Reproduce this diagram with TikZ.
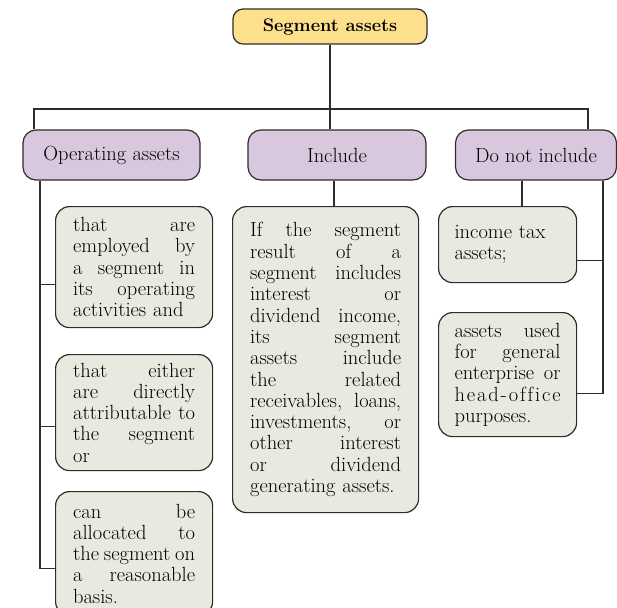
\documentclass[tikz,border=0pt]{standalone}
\usepackage{fontspec}
\definecolor{topfill}{RGB}{253,223,140}
\definecolor{catfill}{RGB}{216,199,221}
\definecolor{itemfill}{RGB}{231,235,223}
\definecolor{edge}{RGB}{45,45,45}
\newcommand\jl[1]{{\spaceskip=0pt\relax\xspaceskip=0pt\relax\makebox[\hsize][s]{#1}}}
\tikzset{
  conn/.style={draw=edge, line width=1.1pt},
  basebox/.style={draw=edge, line width=1.2pt, inner sep=0pt},
  topbox/.style={basebox, fill=topfill, rounded corners=10pt, minimum width=194pt, minimum height=35pt,
    font=\fontsize{18.2}{21}\selectfont\bfseries},
  catbox/.style={basebox, fill=catfill, rounded corners=13pt, minimum height=50pt,
    font=\fontsize{20.5}{21.2}\selectfont},
  itembox/.style={basebox, fill=itemfill, rounded corners=14pt, align=left, anchor=north west,
    font=\fontsize{20.5}{21.3}\selectfont},
}
\begin{document}
\begin{tikzpicture}[x=1pt,y=-1pt]
\useasboundingbox (0,0) rectangle (617,607);
\clip (0,0) rectangle (617,607);
% nodes
\node[topbox] (top) at (330,26.5) {Segment assets};
\node[catbox, minimum width=177pt] (op) at (111.5,155) {Operating assets};
\node[catbox, minimum width=178pt] (inc) at (337,155) {Include};
\node[catbox, minimum width=161pt] (dni) at (536,155) {Do not include};

\node[itembox, text width=122pt, inner xsep=17.5pt, minimum height=121pt] (b1) at (55,206)
 {\jl{that are}\\ \jl{employed by}\\ \jl{a segment in}\\ \jl{its operating}\\ activities and};
\node[itembox, text width=122pt, inner xsep=17.5pt, minimum height=116pt] (b2) at (55,354)
 {\jl{that either}\\ \jl{are directly}\\ \jl{attributable to}\\ \jl{the segment}\\ or};
\node[itembox, text width=122pt, inner xsep=17.5pt, minimum height=124pt] (b3) at (55,491)
 {\jl{can be}\\ \jl{allocated to}\\ \jl{the segment on}\\ \jl{a reasonable}\\ basis.};

\node[itembox, text width=151pt, inner xsep=17.5pt, minimum height=306pt] (ib) at (232,206)
 {\jl{If the segment}\\ \jl{result of a}\\ \jl{segment includes}\\ \jl{interest or}\\
  \jl{dividend income,}\\ \jl{its segment}\\ \jl{assets include}\\ \jl{the related}\\
  \jl{receivables, loans,}\\ \jl{investments, or}\\ \jl{other interest}\\ \jl{or dividend}\\
  generating assets.};

\node[itembox, text width=106pt, inner xsep=16pt, minimum height=76pt] (i1) at (438,206)
 {income tax\\ assets;};
\node[itembox, text width=106pt, inner xsep=16pt, minimum height=124pt] (i2) at (438,312)
 {\jl{assets used}\\ \jl{for general}\\ \jl{enterprise or}\\
  \makebox[\hsize][s]{h\hfill e\hfill a\hfill d\hfill -\hfill o\hfill f\hfill f\hfill i\hfill c\hfill e}\\ purposes.};

% helper coordinates
\coordinate (hy) at (0,109);
\coordinate (xL) at (34,0);
\coordinate (xR) at (588,0);
\coordinate (t1) at (40,0);
\coordinate (t2) at (603,0);
\coordinate (xI) at (334,0);
\coordinate (xD) at (522,0);
\coordinate (c1) at ([yshift=-17pt]b1.west);
\coordinate (c2) at ([yshift=-14pt]b2.west);
\coordinate (c3) at ([yshift=-15pt]b3.west);
\coordinate (c4) at ([yshift=-16pt]i1.east);
\coordinate (c5) at ([yshift=-19pt]i2.east);

% connectors
\draw[conn] (top.south) -- (top.south |- hy);
\draw[conn] (op.north -| xL) -- (xL |- hy) -- (xR |- hy) -- (dni.north -| xR);
\draw[conn] (top.south |- hy) -- (inc.north -| top.south);
\draw[conn] (op.south -| t1) -- (c3 -| t1) -- (c3);
\draw[conn] (c1 -| t1) -- (c1);
\draw[conn] (c2 -| t1) -- (c2);
\draw[conn] (inc.south -| xI) -- (ib.north -| xI);
\draw[conn] (dni.south -| xD) -- (i1.north -| xD);
\draw[conn] (dni.south -| t2) -- (c5 -| t2) -- (c5);
\draw[conn] (c4 -| t2) -- (c4);
\end{tikzpicture}
\end{document}
